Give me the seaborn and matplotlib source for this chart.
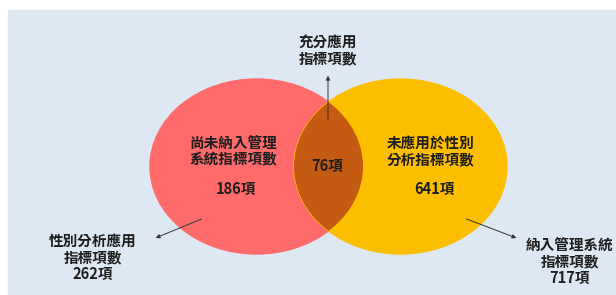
import matplotlib
matplotlib.use("Agg")
import matplotlib.pyplot as plt
import seaborn as sns
from matplotlib.patches import Ellipse, Rectangle

sns.set_style("white")
plt.rcParams['font.family'] = ['Noto Sans CJK TC', 'DejaVu Sans']

# data
set_names = ["尚未納入管理\n系統指標項數", "未應用於性別\n分析指標項數"]
set_only = [186, 641]
overlap = 76
overlap_name = "充分應用\n指標項數"
total_names = ["性別分析應用\n指標項數", "納入管理系統\n指標項數"]
totals = [262, 717]

colors = ["#ff6b6b", "#fcbf00"]
overlap_color = "#c55a12"
bg = "#dde8f3"
txt = "#1e1e1e"

fig, ax = plt.subplots(figsize=(6.16, 2.95), dpi=100)
fig.subplots_adjust(0, 0, 1, 1)
ax.set_xlim(0, 616)
ax.set_ylim(295, 0)
ax.axis("off")

ax.add_patch(Rectangle((8, 10), 620, 300, color=bg, zorder=0))

w, h, cy = 213, 175, 166.5
cx = [256.5, 400.5]
e_left = Ellipse((cx[0], cy), w, h, color=colors[0], zorder=1)
e_right = Ellipse((cx[1], cy), w, h, color=colors[1], zorder=1)
ax.add_patch(e_left)
ax.add_patch(e_right)
lens = Ellipse((cx[0], cy), w, h, color=overlap_color, lw=0, zorder=2)
ax.add_patch(lens)
lens.set_clip_path(e_right)

fs = 10.5
kw = dict(ha="center", va="center", fontsize=fs, fontweight="bold", color=txt,
          linespacing=1.05, zorder=5)

# inside labels
ax.text(233, 151, set_names[0], **kw)
ax.text(236, 189, f"{set_only[0]}項", **kw)
ax.text(431, 151, set_names[1], **kw)
ax.text(434, 189, f"{set_only[1]}項", **kw)
ax.text(327, 166, f"{overlap}項", **kw)

# top label
ax.text(328, 50, overlap_name, **kw)
arrow = dict(arrowstyle="-|>", color="#333333", lw=0.7, mutation_scale=6)
ax.annotate("", xy=(328, 73), xytext=(328, 123), arrowprops=arrow, zorder=6)

# outside totals
ax.text(93, 257, f"{total_names[0]}\n{totals[0]}項", **kw)
ax.annotate("", xy=(153, 239), xytext=(204, 218), arrowprops=arrow, zorder=6)
ax.text(570, 261, f"{total_names[1]}\n{totals[1]}項", **kw)
ax.annotate("", xy=(519, 239), xytext=(464, 218), arrowprops=arrow, zorder=6)

fig.savefig("out.png", dpi=100)
